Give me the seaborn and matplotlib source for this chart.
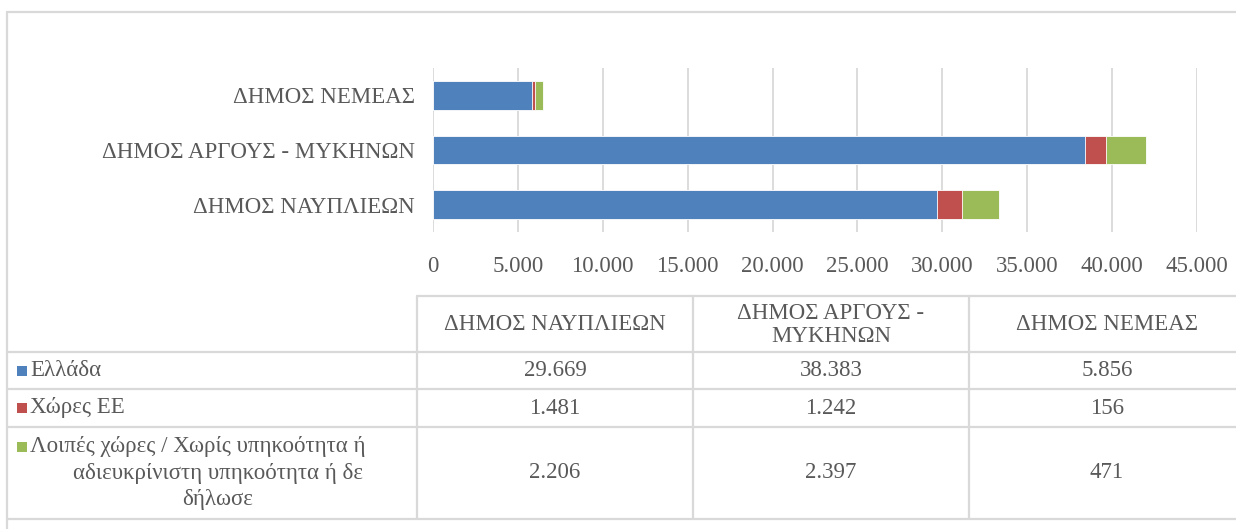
import matplotlib
matplotlib.use("Agg")
import matplotlib.pyplot as plt
import seaborn as sns
from matplotlib.lines import Line2D
from matplotlib.patches import Rectangle

# Δεδομένα (ανάγνωση από το γράφημα)
dimoi = ["ΔΗΜΟΣ ΝΑΥΠΛΙΕΩΝ", "ΔΗΜΟΣ ΑΡΓΟΥΣ - ΜΥΚΗΝΩΝ", "ΔΗΜΟΣ ΝΕΜΕΑΣ"]
dimoi_table = ["ΔΗΜΟΣ ΝΑΥΠΛΙΕΩΝ", "ΔΗΜΟΣ ΑΡΓΟΥΣ -\nΜΥΚΗΝΩΝ", "ΔΗΜΟΣ ΝΕΜΕΑΣ"]
series_names = ["Ελλάδα", "Χώρες ΕΕ",
                "Λοιπές χώρες / Χωρίς υπηκοότητα ή\nαδιευκρίνιστη υπηκοότητα ή δε\nδήλωσε"]
ellada = [29669, 38383, 5856]
xores_ee = [1481, 1242, 156]
loipes = [2206, 2397, 471]
x_ticks = list(range(0, 45001, 5000))

colors = ["#4F81BD", "#C0504D", "#9BBB59"]
text_col = "#595959"
line_col = "#D9D9D9"

sns.set_theme(style="white")
plt.rcParams['font.family'] = ['Liberation Serif', 'DejaVu Serif']
FS = 16.5

W, H = 1236, 529
fig = plt.figure(figsize=(W / 100, H / 100), dpi=100)

def fx(x):
    return x / W

def fy(y):
    return 1 - y / H

ax = fig.add_axes([fx(433), fy(232), fx(1197) - fx(433), fy(68) - fy(232)])

# στοίβαξη: σύνολα πρώτα, μετά τα μερικά αθροίσματα από πάνω
order = dimoi[::-1]
totals = [a + b + c for a, b, c in zip(ellada, xores_ee, loipes)]
partial = [a + b for a, b in zip(ellada, xores_ee)]
for vals, col in [(totals, colors[2]), (partial, colors[1]), (ellada, colors[0])]:
    sns.barplot(x=vals, y=dimoi, order=order, color=col, width=0.52,
                saturation=1, ax=ax, edgecolor="white", linewidth=0.6)

ax.set_xlim(0, 45000)
ax.set_xticks(x_ticks)
ax.set_xticklabels([f"{t:,}".replace(",", ".") for t in x_ticks])
ax.set_xlabel("")
ax.set_ylabel("")
ax.grid(axis="x", color=line_col, linewidth=1.3)
ax.grid(axis="y", visible=False)
ax.set_axisbelow(True)
for s in ax.spines.values():
    s.set_visible(False)
ax.tick_params(axis="x", length=0, pad=17, labelsize=FS, labelcolor=text_col)
ax.tick_params(axis="y", length=0, pad=13, labelsize=FS, labelcolor=text_col)

# πλαίσιο γραφήματος
def hline(y, x0, x1):
    fig.add_artist(Line2D([fx(x0), fx(x1)], [fy(y), fy(y)], color=line_col, lw=1.6))

def vline(x, y0, y1):
    fig.add_artist(Line2D([fx(x), fx(x)], [fy(y0), fy(y1)], color=line_col, lw=1.6))

hline(12, 7, W)
vline(7, 12, H)

# πίνακας δεδομένων
col_x = [417, 693, 969, 1245]
row_y = [296, 352, 389, 427, 519]
hline(row_y[0], col_x[0], W)
for y in row_y[1:]:
    hline(y, 7, W)
for x in col_x[:3]:
    vline(x, row_y[0], row_y[-1])

for i, name in enumerate(dimoi_table):
    cx = (col_x[i] + col_x[i + 1]) / 2
    fig.text(fx(cx), fy((row_y[0] + row_y[1]) / 2 + 1), name, ha="center", va="center",
             fontsize=FS, color=text_col, linespacing=1.1)

for r, (name, vals) in enumerate(zip(series_names, [ellada, xores_ee, loipes])):
    cy = (row_y[r + 1] + row_y[r + 2]) / 2
    lines = name.split("\n")
    n = len(lines)
    step = 26.5
    for k, ln in enumerate(lines):
        ly = cy + (k - (n - 1) / 2) * step
        if k == 0:
            fig.text(fx(30), fy(ly), ln, ha="left", va="center", fontsize=FS, color=text_col)
            fig.add_artist(Rectangle((fx(17), fy(ly + 5)), fx(10), 10 / H,
                                     facecolor=colors[r], edgecolor="none"))
        else:
            fig.text(fx(218), fy(ly), ln, ha="center", va="center", fontsize=FS, color=text_col)
    for i, v in enumerate(vals):
        cx = (col_x[i] + col_x[i + 1]) / 2
        fig.text(fx(cx), fy(cy), f"{v:,}".replace(",", "."), ha="center", va="center",
                 fontsize=FS, color=text_col)

plt.savefig("out.png", dpi=100)
